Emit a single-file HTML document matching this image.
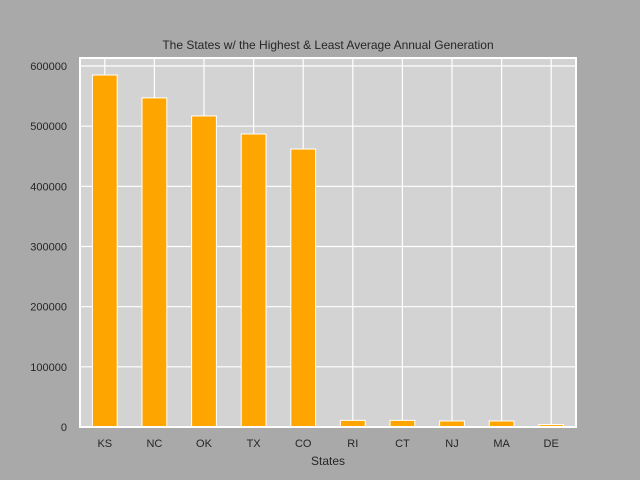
<!DOCTYPE html>
<html><head><meta charset="utf-8"><style>
html,body{margin:0;padding:0;background:#a9a9a9;overflow:hidden;width:640px;height:480px;}
svg{display:block;}
svg text{font-family:"Liberation Sans",sans-serif;fill:#262626;}
</style></head><body>
<svg id="chart" width="640" height="480">
<rect width="640" height="480" fill="#a9a9a9"/>
<text x="328" y="49" font-size="12" text-anchor="middle">The States w/ the Highest &amp; Least Average Annual Generation</text>
<text x="328" y="465" font-size="12" text-anchor="middle">States</text>
<g id="plot"></g>
</svg>
<script>
const categories=["KS","NC","OK","TX","CO","RI","CT","NJ","MA","DE"];
const values=[585000,547000,517000,487000,462000,11000,11000,10000,10000,4000];
const yTicks=[0,100000,200000,300000,400000,500000,600000];
const L=80,R=576,T=58,B=427;
const y=v=>B-v*(361/600000);
const band=(R-L)/categories.length;
const x=i=>L+band*(i+0.5);
const NS="http://www.w3.org/2000/svg";
const g=document.getElementById('plot');
function mk(t,a,p){const e=document.createElementNS(NS,t);for(const k in a)e.setAttribute(k,a[k]);(p||g).appendChild(e);return e;}
const bg=mk('rect',{x:L,y:T,width:R-L,height:B-T,fill:'#d3d3d3'});


yTicks.forEach(t=>{
 const l=mk('line',{x1:L,x2:R,y1:y(t),y2:y(t),stroke:'#fff','stroke-width':1.2});
 
 
 const tx=mk('text',{x:L-13,y:y(t)+4,'font-size':11,'text-anchor':'end'});
 tx.textContent=t;
 
 
});
categories.forEach((c,i)=>{
 const l=mk('line',{x1:x(i),x2:x(i),y1:T,y2:B,stroke:'#fff','stroke-width':1.2});
 
 
});
categories.forEach((c,i)=>{
 const w=band*0.5;
 const r=mk('rect',{x:x(i)-w/2,y:y(values[i]),width:w,height:B-y(values[i]),fill:'#ffa500',stroke:'#fff','stroke-width':1});
 
 
 const tx=mk('text',{x:x(i),y:B+20,'font-size':11,'text-anchor':'middle'});
 tx.textContent=c;
 
 
});
const f=mk('rect',{x:L,y:T,width:R-L,height:B-T,fill:'none',stroke:'#fff','stroke-width':2});


</script>
</body></html>
